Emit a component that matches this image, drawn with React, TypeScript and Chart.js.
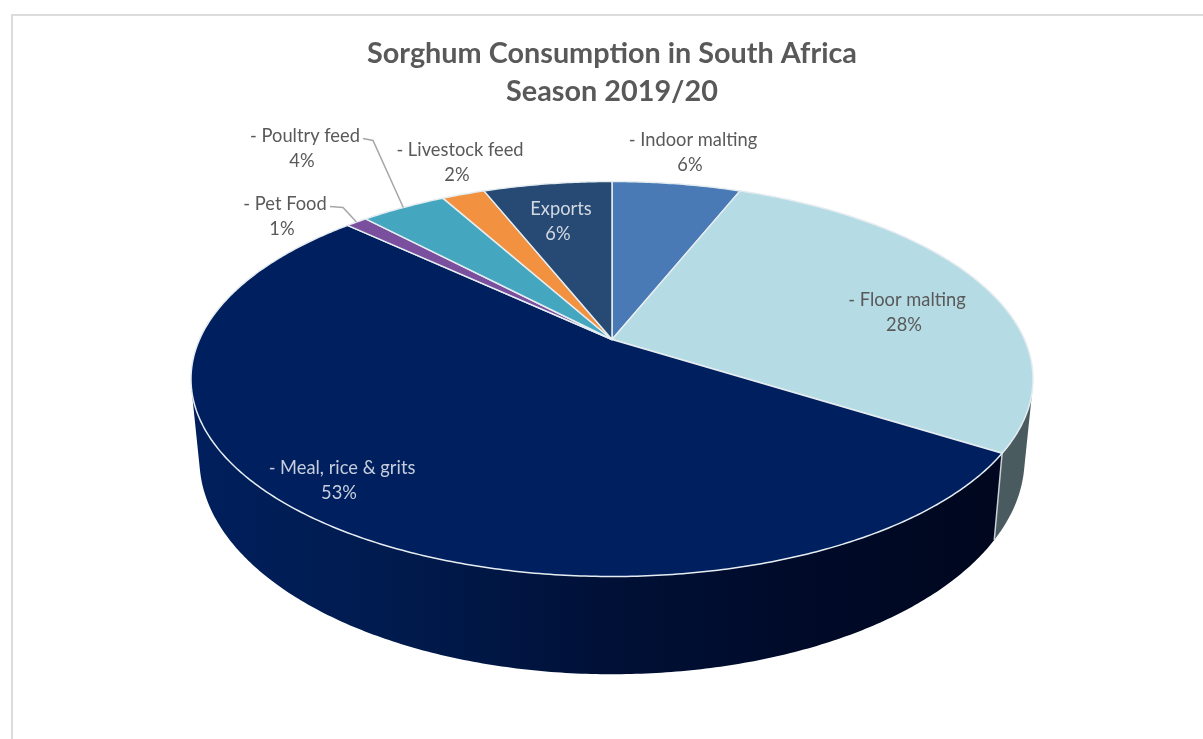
import { useEffect, useRef } from "react";
import { Chart, registerables } from "chart.js";

Chart.register(...registerables);

const categories = ["Indoor malting", "Floor malting", "Meal, rice & grits", "Pet Food", "Poultry feed", "Livestock feed", "Exports"];
const shares = [6, 28, 53, 1, 4, 2, 6];
const titleLines = ["Sorghum Consumption in South Africa", "Season 2019/20"];

const faceColors = ["#4a7ab6", "#b5dbe5", "#001f5f", "#7a4f9e", "#45a6c0", "#f29240", "#264a73"];
const categoryPrefixes = ["- ", "- ", "- ", "- ", "- ", "- ", ""];
const labelColors = ["#595959", "#595959", "#c6cedc", "#595959", "#595959", "#595959", "#d3d9e3"];
// Label centres as [dx, dy] from the pie apex.
const labelOffsets = [
  [81, -199], [295, -39], [-270, 129], [-327, -135], [-307, -203], [-152, -189], [-51, -130],
];
// Leader elbows as [[startDx, startDy], [kneeDx, kneeDy]] from the apex, only where a label sits away from its slice.
const leaders: Record<number, number[][]> = {
  3: [[-282, -133], [-269, -132]],
  4: [[-249, -201], [-239, -199]],
};

// Projection of the flat pie onto the tilted disc, as multiples of the arc radius.
const PERSPECTIVE = 0.2;
const SPREAD_X = 2.0625;
const SPREAD_Y = 0.948;
const RADIUS = 200;
// Mapping from the rim of the top face to the rim of the base.
const BASE_SCALE_X = 0.98;
const BASE_SCALE_Y = 1.09;
const TOP_CENTRE_DY = 40;
const BASE_CENTRE_DY = 120;

type Pt = [number, number];

function rimPoint(cx: number, cy: number, r: number, angle: number): Pt {
  const t = angle + Math.PI / 2;
  const w = 1 + PERSPECTIVE * Math.cos(t);
  return [cx + (SPREAD_X * r * Math.sin(t)) / w, cy - (SPREAD_Y * r * Math.cos(t)) / w];
}

function basePoint(cx: number, cy: number, p: Pt): Pt {
  return [
    cx + BASE_SCALE_X * (p[0] - cx),
    cy + BASE_CENTRE_DY + BASE_SCALE_Y * (p[1] - (cy + TOP_CENTRE_DY)),
  ];
}

function rimPath(cx: number, cy: number, r: number, a0: number, a1: number): Pt[] {
  const steps = Math.max(2, Math.ceil((a1 - a0) / 0.01));
  const pts: Pt[] = [];
  for (let i = 0; i <= steps; i++) pts.push(rimPoint(cx, cy, r, a0 + ((a1 - a0) * i) / steps));
  return pts;
}

function signedArea(quad: Pt[]): number {
  let area = 0;
  quad.forEach((p, i) => {
    const q = quad[(i + 1) % quad.length];
    area += p[0] * q[1] - q[0] * p[1];
  });
  return area;
}

const tiltedPie = {
  id: "tiltedPie",
  beforeDatasetsDraw(chart: any) {
    const { ctx } = chart;
    const arcs = chart.getDatasetMeta(0).data;
    const { x: cx, y: cy, outerRadius: r } = arcs[0];

    ctx.save();
    ctx.lineJoin = "round";

    // Side walls: one path of swept quads per slice, all wound the same way so
    // that overlaps near the silhouette stay filled under the nonzero rule.
    arcs.forEach((arc: any, i: number) => {
      const top = rimPath(cx, cy, r, arc.startAngle, arc.endAngle);
      const base = top.map((p) => basePoint(cx, cy, p));
      const grad = ctx.createLinearGradient(cx - SPREAD_X * r, 0, cx + SPREAD_X * r, 0);
      if (i === 2) {
        grad.addColorStop(0, "#001f5c");
        grad.addColorStop(0.26, "#001a4c");
        grad.addColorStop(0.5, "#001036");
        grad.addColorStop(0.75, "#000a28");
        grad.addColorStop(1, "#00071d");
      } else {
        grad.addColorStop(0, "#4d6066");
        grad.addColorStop(1, "#4a5b60");
      }
      ctx.beginPath();
      for (let k = 0; k + 1 < top.length; k++) {
        const quad: Pt[] = [top[k], top[k + 1], base[k + 1], base[k]];
        if (signedArea(quad) < 0) quad.reverse();
        quad.forEach((p, n) => (n ? ctx.lineTo(p[0], p[1]) : ctx.moveTo(p[0], p[1])));
        ctx.closePath();
      }
      ctx.fillStyle = grad;
      ctx.fill();
    });

    // Seam where the two walls meet.
    const seamTop = rimPoint(cx, cy, r, arcs[2].startAngle);
    const seamBase = basePoint(cx, cy, seamTop);
    ctx.strokeStyle = "#c9d0d6";
    ctx.lineWidth = 1.5;
    ctx.beginPath();
    ctx.moveTo(seamTop[0], seamTop[1]);
    ctx.lineTo(seamBase[0], seamBase[1]);
    ctx.stroke();

    // Top faces.
    arcs.forEach((arc: any) => {
      const rim = rimPath(cx, cy, r, arc.startAngle, arc.endAngle);
      ctx.beginPath();
      ctx.moveTo(cx, cy);
      rim.forEach((p) => ctx.lineTo(p[0], p[1]));
      ctx.closePath();
      ctx.fillStyle = arc.options.backgroundColor;
      ctx.fill();
      ctx.strokeStyle = arc.options.borderColor;
      ctx.lineWidth = arc.options.borderWidth;
      ctx.stroke();
    });
    ctx.restore();
    return false;
  },
  afterDraw(chart: any) {
    const { ctx } = chart;
    const arcs = chart.getDatasetMeta(0).data;
    const { x: cx, y: cy, outerRadius: r } = arcs[0];

    ctx.save();
    ctx.strokeStyle = "#a6a6a6";
    ctx.lineWidth = 1.5;
    Object.keys(leaders).forEach((key) => {
      const i = Number(key);
      const [start, knee] = leaders[i];
      const end = rimPoint(cx, cy, r, (arcs[i].startAngle + arcs[i].endAngle) / 2);
      ctx.beginPath();
      ctx.moveTo(cx + start[0], cy + start[1]);
      ctx.lineTo(cx + knee[0], cy + knee[1]);
      ctx.lineTo(end[0], end[1]);
      ctx.stroke();
    });

    ctx.font = '18.3px Lato, "Open Sans", sans-serif';
    ctx.textAlign = "center";
    ctx.textBaseline = "middle";
    categories.forEach((name, i) => {
      const [dx, dy] = labelOffsets[i];
      ctx.fillStyle = labelColors[i];
      ctx.fillText(categoryPrefixes[i] + name, cx + dx, cy + dy);
      ctx.fillText(`${shares[i]}%`, cx + dx - 3, cy + dy + 24.5);
    });
    ctx.restore();
  },
};

export default function App() {
  const ref = useRef<HTMLCanvasElement>(null);
  useEffect(() => {
    const chart = new Chart(ref.current!, {
      type: "pie",
      data: {
        labels: categories,
        datasets: [
          {
            data: shares,
            backgroundColor: faceColors,
            borderColor: "#e6edf1",
            borderWidth: 1.5,
          },
        ],
      },
      options: {
        responsive: false,
        animation: false,
        radius: RADIUS,
        layout: { padding: { right: 2, bottom: 171 } },
        plugins: {
          legend: { display: false },
          tooltip: { enabled: false },
          title: {
            display: true,
            text: titleLines,
            color: "#595959",
            font: { family: 'Lato, "Open Sans", sans-serif', size: 28.8, weight: "bold", lineHeight: 1.32 },
            padding: { top: 21, bottom: 0 },
          },
        },
      } as any,
      plugins: [tiltedPie],
    });
    return () => chart.destroy();
  }, []);

  return (
    <div style={{ position: "fixed", left: 0, top: 0, width: 1203, height: 739, overflow: "hidden", background: "#fff" }}>
      <div
        style={{
          position: "absolute",
          left: 11,
          top: 14,
          width: 1300,
          height: 900,
          borderLeft: "2px solid #dcdcdc",
          borderTop: "2px solid #dcdcdc",
        }}
      />
      <canvas ref={ref} width={1200} height={725} style={{ position: "absolute", left: 13, top: 14, display: "block" }} />
    </div>
  );
}
